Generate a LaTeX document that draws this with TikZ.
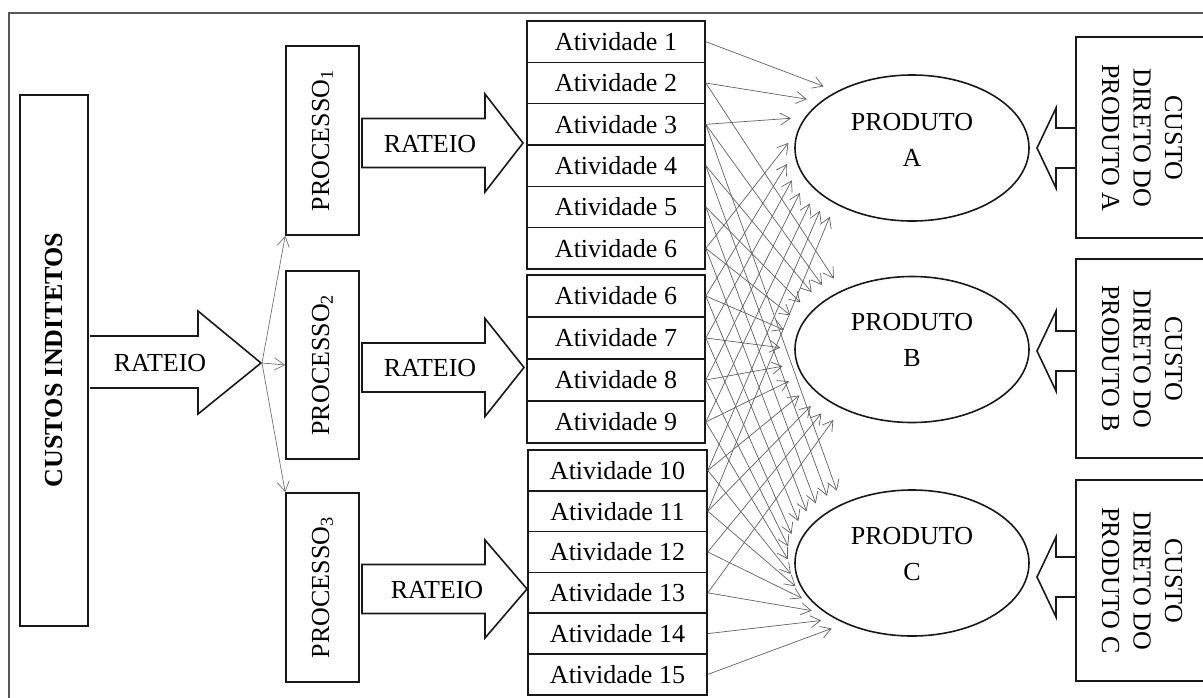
\documentclass[tikz,border=0pt]{standalone}
\usepackage{fontspec}
\setmainfont{Liberation Serif}
\usetikzlibrary{arrows.meta,shapes.geometric}
\begin{document}
\begin{tikzpicture}[x=1pt,y=-1pt,
  box/.style={draw=black!90, line width=1.6pt, inner sep=0pt},
  lbl/.style={font=\fontsize{26}{31}\selectfont, inner sep=0pt},
  fan/.style={draw=black!62, line width=0.7pt, -{Straight Barb[length=10pt,width=12pt]}, shorten >=14pt},
  proc/.style={draw=black!55, line width=0.7pt, -{Straight Barb[length=10pt,width=12pt]}},
  hollow/.style={draw=black!90, line width=1.6pt, line join=miter},
  prod/.style={draw=black!90, ellipse, line width=1.6pt, minimum width=234, minimum height=146, inner sep=0pt}]
\useasboundingbox (0,0) rectangle (1203,697);
\clip (0,0) rectangle (1203,697);
\draw[draw=black!65, line width=2pt] (9,13) rectangle (1230,730);

% left box
\node[box, minimum width=68, minimum height=531] (ci) at (54,360.5) {};
\node[lbl, rotate=90, font=\fontsize{26}{31}\selectfont\bfseries] (cit) at (54,360) {CUSTOS INDITETOS};

% big rateio arrow
\draw[hollow] (90,336) -- (198,336) -- (198,311) -- (261,363) -- (198,414) -- (198,388) -- (90,388);
\node[lbl] (r0) at (160,363) {RATEIO};
\coordinate (split) at (262,363);

% processes
\node[box, minimum width=73, minimum height=189] (p1) at (322.5,140.5) {};
\node[box, minimum width=73, minimum height=188] (p2) at (322.5,365) {};
\node[box, minimum width=73, minimum height=189] (p3) at (322.5,587.5) {};
\node[lbl, rotate=90] (p1t) at (p1) {PROCESSO\textsubscript{1}};
\node[lbl, rotate=90] (p2t) at (p2) {PROCESSO\textsubscript{2}};
\node[lbl, rotate=90] (p3t) at (p3) {PROCESSO\textsubscript{3}};
\draw[proc] (split) -- (p1.south west);
\draw[proc] (split) -- (p2.west);
\draw[proc] (split) -- (p3.north west);

% small rateio arrows
\foreach \c/\t/\n/\tx in {143/523/r1/430, 367.5/524/r2/430, 589/527/r3/437}{
  \draw[hollow] (362,\c-24.5) -- (485,\c-24.5) -- (485,\c-49) -- (\t,\c) -- (485,\c+49) -- (485,\c+24.5) -- (362,\c+24.5) -- cycle;
  \node[lbl] (\n) at (\tx,\c+1) {RATEIO};
}

% activities
\foreach \n/\y/\t in {a1/41.7/1, a2/83/2, a3/124.3/3, a4/165.7/4, a5/207/5, a6/248.3/6}{
  \node[box, lbl, minimum width=178, minimum height=41.3] (\n) at (616,\y) {Atividade \t};
}
\foreach \n/\y/\t in {b6/296/6, b7/338/7, b8/380/8, b9/422/9}{
  \node[box, lbl, minimum width=178, minimum height=42] (\n) at (616,\y) {Atividade \t};
}
\foreach \n/\y/\t in {c10/470.4/10, c11/511.2/11, c12/552/12, c13/592.8/13, c14/633.6/14, c15/674.4/15}{
  \node[box, lbl, minimum width=179, minimum height=40.8] (\n) at (617.5,\y) {Atividade \t};
}

% products
\node[prod] (pA) at (912,148) {};
\node[prod] (pB) at (912,349.5) {};
\node[prod] (pC) at (912,563) {};
\node[lbl, align=center] (pAt) at (912,140) {PRODUTO\\[5pt]A};
\node[lbl, align=center] (pBt) at (912,340) {PRODUTO\\[5pt]B};
\node[lbl, align=center] (pCt) at (912,554) {PRODUTO\\[5pt]C};

% fan arrows
\foreach \s/\a in {a1/143,a2/153,a3/164,a6/172,b6/182,b7/190,b8/197,b9/204,c10/210,c11/216}
  \draw[fan] (\s.east) -- (pA.\a);
\foreach \s/\a in {a2/140,a3/147,a4/153,a5/160,a6/167,b6/173,b7/180,b8/187,b9/193,c10/200,c11/207,c12/213,c13/220}
  \draw[fan] (\s.east) -- (pB.\a);
\foreach \s/\a in {a3/140,a4/146,a5/153,a6/159,b6/165,b7/172,b8/178,b9/184,c10/191,c11/197,c12/203,c13/210,c14/216,c15/222}
  \draw[fan] (\s.east) -- (pC.\a);

% direct cost boxes
\node[box, minimum width=139, minimum height=201] (dA) at (1145.5,137.5) {};
\node[box, minimum width=139, minimum height=199] (dB) at (1145.5,358.5) {};
\node[box, minimum width=139, minimum height=201] (dC) at (1145.5,580.5) {};
\node[lbl, rotate=-90, align=center, font=\fontsize{26}{31.5}\selectfont] (dAt) at (1142,138) {CUSTO\\DIRETO DO\\PRODUTO A};
\node[lbl, rotate=-90, align=center, font=\fontsize{26}{31.5}\selectfont] (dBt) at (1142,358.5) {CUSTO\\DIRETO DO\\PRODUTO B};
\node[lbl, rotate=-90, align=center, font=\fontsize{26}{31.5}\selectfont] (dCt) at (1142,580.5) {CUSTO\\DIRETO DO\\PRODUTO C};
\foreach \c in {148,351,577}{
  \draw[hollow] (1076,\c-20) -- (1056,\c-20) -- (1056,\c-40) -- (1037,\c) -- (1056,\c+40) -- (1056,\c+20) -- (1076,\c+20);
}
\end{tikzpicture}
\end{document}
